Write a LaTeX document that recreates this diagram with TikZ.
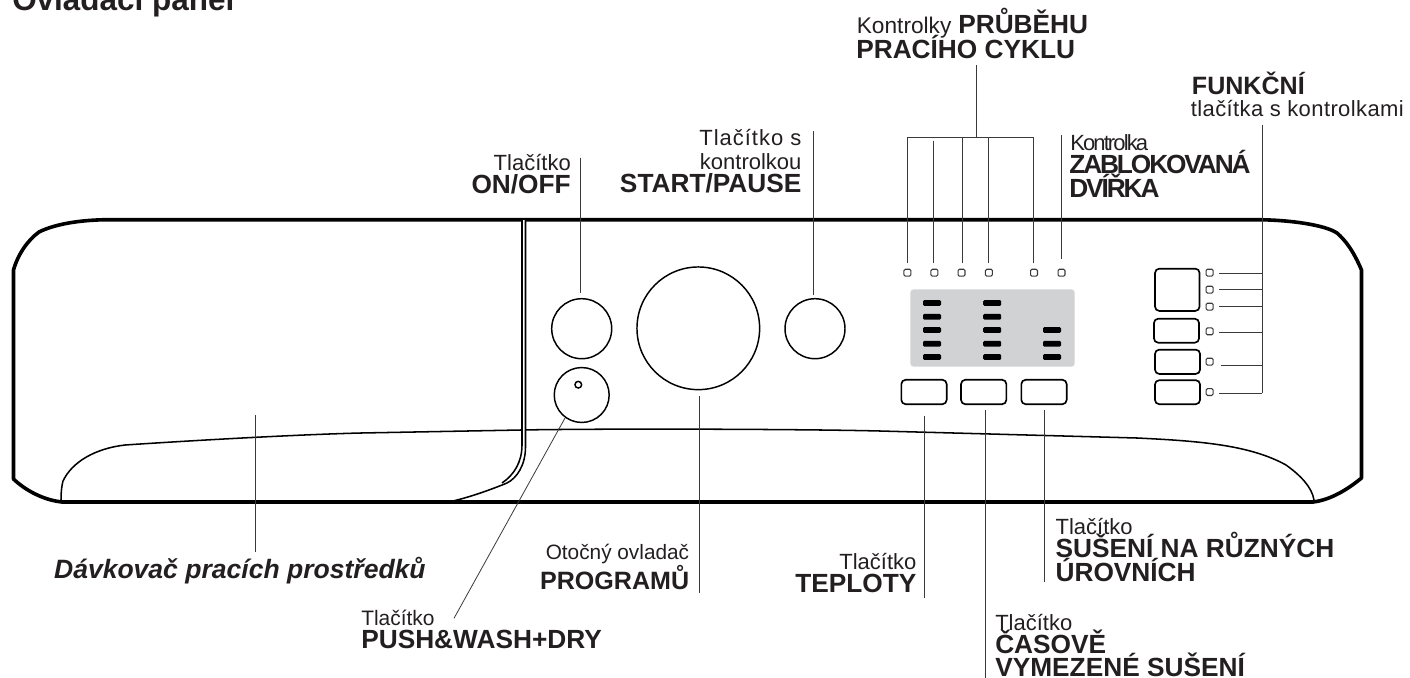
\documentclass[tikz,border=0pt]{standalone}
\usepackage{fontspec}
\setmainfont{Liberation Sans}
\definecolor{ink}{HTML}{231F20}
\definecolor{lead}{HTML}{3A3A3A}
\definecolor{screen}{HTML}{D1D2D4}
\newcommand{\ls}[1]{\addfontfeatures{LetterSpace=#1}}
\newcommand{\fsz}[1]{\fontsize{#1}{#1}\selectfont}
\tikzset{
  outline/.style={line width=2.7pt,black,line join=round},
  thinline/.style={line width=1.15pt,black},
  leader/.style={line width=.75pt,lead},
  knob/.style={circle,draw=black,line width=1.1pt,inner sep=0pt},
  btn/.style={draw=black,line width=1.25pt,rounded corners=3.2pt,inner sep=0pt},
  led/.style={draw=lead,line width=.8pt,rounded corners=1pt,inner sep=0pt,minimum width=5.2pt,minimum height=5.2pt},
  bar/.style={fill=black,rounded corners=1pt,inner sep=0pt,minimum width=13.5pt,minimum height=4.4pt},
  lab/.style={inner sep=0pt,text=ink,font=\fsz{16.5}},
  hd/.style={inner sep=0pt,text=ink,font=\fsz{19.7}\bfseries},
}
\begin{document}
\begin{tikzpicture}[x=.75pt,y=-.75pt]
\useasboundingbox (0,0) rectangle (1410,678);
% panel outline
\draw[outline] (62,502) -- (1313,502)
  .. controls (1330,500) and (1347,490) .. (1361.5,478) -- (1361.5,270)
  .. controls (1353,250) and (1345,240) .. (1337,233)
  .. controls (1325,225) and (1290,219.7) .. (1255,219.7) -- (107,219.7)
  .. controls (80,220) and (55,224) .. (39,232)
  .. controls (28,240) and (18,254) .. (13.5,270) -- (13.5,479)
  .. controls (25,490) and (43,500) .. (62,502);
% lower bevel
\draw[thinline] (61,501) .. controls (61,490) and (62,485) .. (63,481)
  .. controls (72,462) and (95,448.5) .. (125,445)
  .. controls (200,440) and (300,434.5) .. (361,433) -- (521,430)
  .. controls (600,428.5) and (800,429) .. (880,431) -- (1137,438)
  .. controls (1200,441) and (1250,445) .. (1286,465)
  .. controls (1300,475) and (1312,487) .. (1314,500);
% drawer edge
\draw[line width=1.1pt,white] (523.8,220) -- (523.8,447);
\draw[thinline] (522,220) -- (522,445) .. controls (522,462) and (514,475) .. (502,483);
\draw[thinline] (525.5,220) -- (525.5,447) .. controls (525.5,465) and (517,478) .. (507,483)
  .. controls (490,490) and (470,497) .. (453,501);
% knobs
\node[knob,minimum size=45pt] (onoff) at (581.7,328.7) {};
\node[knob,minimum size=92pt] (dial) at (698.3,328.3) {};
\node[knob,minimum size=45pt] (start) at (815,328.7) {};
\node[knob,minimum size=41.2pt] (push) at (581.7,395) {};
\node[knob,minimum size=5pt] (pushdot) at (578.3,384.7) {};
% display
\node[fill=screen,rounded corners=2.5pt,inner sep=0pt,minimum width=123.2pt,minimum height=58pt] (display) at (992.5,328) {};
\foreach \n/\y in {1/303,2/316.7,3/330,4/343.7,5/357}{
  \node[bar] (ba\n) at (932,\y) {};
  \node[bar] (bb\n) at (992.2,\y) {};
}
\foreach \n/\y in {3/330,4/343.7,5/357}{ \node[bar] (bc\n) at (1052,\y) {}; }
% lower buttons
\node[btn,minimum width=34pt,minimum height=18.3pt] (btemp) at (924,392) {};
\node[btn,minimum width=34pt,minimum height=18.3pt] (btime) at (983.7,392) {};
\node[btn,minimum width=34pt,minimum height=18.3pt] (bdry) at (1044,392) {};
% function buttons
\node[btn,minimum width=33.4pt,minimum height=31.7pt] (f1) at (1177.3,289.8) {};
\node[btn,minimum width=33.8pt,minimum height=18pt] (f2) at (1176.5,330.7) {};
\node[btn,minimum width=33.8pt,minimum height=18.2pt] (f3) at (1177.5,361.8) {};
\node[btn,minimum width=33.8pt,minimum height=18pt] (f4) at (1177.5,392.2) {};
% LEDs
\foreach \n/\x in {1/907.4,2/934.4,3/961.5,4/988.9,5/1034,6/1061.5}{ \node[led] (p\n) at (\x,272.7) {}; }
\foreach \n/\y in {1/272.7,2/289.7,3/306.7,4/331.3,5/361.7,6/392}{ \node[led] (q\n) at (1209.6,\y) {}; }
% leader coordinates
\coordinate (pbus) at (976,137.3);
\coordinate (pstem) at (976,65);
\coordinate (fbusT) at (1262.3,125);
\coordinate (fbusB) at (1262.3,393);
\coordinate (lonoff) at (580.3,157.7);
\coordinate (lonoffe) at (580.3,293.3);
\coordinate (lstart) at (813.3,131);
\coordinate (lstarte) at (813.3,295);
\coordinate (ldial) at (699.3,396);
\coordinate (ldiale) at (699.3,592.7);
\coordinate (lpush) at (565,418);
\coordinate (lpushe) at (454,618.3);
\coordinate (ldisp) at (255,415);
\coordinate (ldispe) at (255,552.3);
\coordinate (ltemp) at (924,415.7);
\coordinate (ltempe) at (924,597.7);
\coordinate (ltime) at (985.7,410);
\coordinate (ltimee) at (985.7,678);
\coordinate (ldry) at (1044.3,410);
\coordinate (ldrye) at (1044.3,581.7);
\draw[leader] (pstem) -- (pbus);
\draw[leader] (907.3,137.3) -- (1033.7,137.3);
\draw[leader] (907.3,137.3) -- (907.3,263.3);
\draw[leader] (933.8,140.7) -- (933.8,263.3);
\draw[leader] (962.2,137.3) -- (962.2,263.3);
\draw[leader] (988.5,137.3) -- (988.5,263.3);
\draw[leader] (1033.9,137.3) -- (1033.9,263.3);
\draw[leader] (1061.5,135) -- (1061.5,259.3);
\draw[leader] (fbusT) -- (fbusB);
\draw[leader] (1219.4,273) -- (1262.3,273);
\draw[leader] (1219.4,289.7) -- (1262.3,289.7);
\draw[leader] (1219.4,306.3) -- (1262.3,306.3);
\draw[leader] (1219.4,332) -- (1262.3,332);
\draw[leader] (1221.4,365) -- (1262.3,365);
\draw[leader] (1219.4,393) -- (1262.3,393);
\draw[leader] (lonoff) -- (lonoffe);
\draw[leader] (lstart) -- (lstarte);
\draw[leader] (ldial) -- (ldiale);
\draw[leader,line width=.6pt] (lpush) -- (lpushe);
\draw[leader] (ldisp) -- (ldispe);
\draw[leader] (ltemp) -- (ltempe);
\draw[leader] (ltime) -- (ltimee);
\draw[leader] (ldry) -- (ldrye);
% texts
\node[hd,anchor=base west,font=\fsz{23.6}\bfseries] (title) at (12,11) {Ovládací panel};
\node[lab,anchor=base west,font=\fsz{17}] (t1a) at (856.6,33) {Kontrolky};
\node[hd,anchor=base west] (t1b) at (958,33) {PRŮBĚHU};
\node[hd,anchor=base west] (t1c) at (856,58) {PRACÍHO CYKLU};
\node[hd,anchor=base west,font=\fsz{18.8}\bfseries] (t2a) at (1191.7,94.3) {FUNKČNÍ};
\node[lab,anchor=base west] (t2b) at (1190.6,116.7) {\ls{1.8}tlačítka s kontrolkami};
\node[lab,anchor=base west] (t3a) at (1070,150) {\ls{-8.6}Kontrolka};
\node[hd,anchor=base west] (t3b) at (1069,173.3) {\ls{-8}ZABLOKOVANÁ};
\node[hd,anchor=base west] (t3c) at (1069,197.3) {\ls{-8}DVÍŘKA};
\node[lab,anchor=base east] (t4a) at (801.7,145) {\ls{4.5}Tlačítko s};
\node[lab,anchor=base east] (t4b) at (801.7,169.3) {kontrolkou};
\node[hd,anchor=base east] (t4c) at (801.7,192.7) {START/PAUSE};
\node[lab,anchor=base east] (t5a) at (571,170) {Tlačítko};
\node[hd,anchor=base east] (t5b) at (571,193.3) {ON/OFF};
\node[hd,anchor=base east,font=\fsz{19.9}\bfseries\itshape] (t6) at (426,578) {Dávkovač pracích prostředků};
\node[lab,anchor=base west,font=\fsz{15.7}] (t7a) at (361,625) {Tlačítko};
\node[hd,anchor=base west] (t7b) at (361,648.3) {PUSH\&WASH+DRY};
\node[lab,anchor=base east,font=\fsz{15.6}] (t8a) at (689.4,559) {Otočný ovladač};
\node[hd,anchor=base east,font=\fsz{18.8}\bfseries] (t8b) at (689.4,589.3) {PROGRAMŮ};
\node[lab,anchor=base east] (t9a) at (916.7,569) {Tlačítko};
\node[hd,anchor=base east] (t9b) at (916.7,592.7) {TEPLOTY};
\node[lab,anchor=base west] (t10a) at (1055.3,534) {Tlačítko};
\node[hd,anchor=base west] (t10b) at (1055.3,557.7) {SUŠENÍ NA RŮZNÝCH};
\node[hd,anchor=base west] (t10c) at (1055.3,581.7) {ÚROVNÍCH};
\node[lab,anchor=base west] (t11a) at (995,630) {Tlačítko};
\node[hd,anchor=base west] (t11b) at (995,653.3) {ČASOVĚ};
\node[hd,anchor=base west] (t11c) at (995,676.7) {VYMEZENÉ SUŠENÍ};
\end{tikzpicture}
\end{document}
